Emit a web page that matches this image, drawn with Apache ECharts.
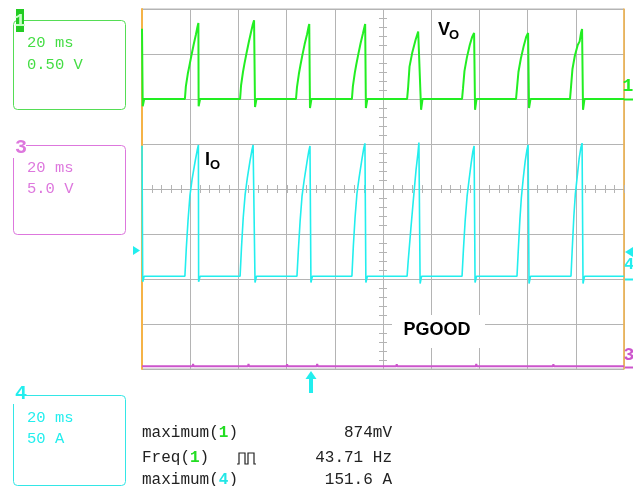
<!DOCTYPE html>
<html>
<head>
<meta charset="utf-8">
<script src="https://cdn.jsdelivr.net/npm/echarts@6/dist/echarts.min.js"></script>
<style>
  html, body { margin: 0; padding: 0; background: #ffffff; }
  #scope { width: 633px; height: 486px; }
</style>
</head>
<body>
<div id="scope"></div>
<script>
// Time base: 20 ms/div, 10 divisions
const timeSpan = [0, 200];

// Channel 1: output voltage V_O (V), 0.50 V/div
const vout = [
  [0, 0.78], [0.2, 0.80], [0.3, -0.08], [0.9, 0],
  [17.8, 0], [18.2, 0.14], [19.0, 0.28], [19.6, 0.36], [20.4, 0.47], [21.4, 0.60], [22.4, 0.72], [23.0, 0.80], [23.4, 0.844], [23.5, -0.08], [24.1, 0],
  [40.7, 0], [41.1, 0.15], [41.9, 0.30], [42.5, 0.39], [43.3, 0.50], [44.3, 0.63], [45.3, 0.75], [46.0, 0.83], [46.5, 0.874], [46.9, -0.09], [47.5, 0],
  [63.9, 0], [64.3, 0.13], [65.1, 0.28], [65.7, 0.37], [66.5, 0.48], [67.5, 0.61], [68.5, 0.72], [69.1, 0.80], [69.4, 0.833], [69.7, -0.10], [70.3, 0],
  [87.1, 0], [87.5, 0.14], [88.3, 0.29], [88.9, 0.38], [89.7, 0.49], [90.7, 0.62], [91.7, 0.73], [92.3, 0.80], [92.6, 0.833], [92.9, -0.10], [93.5, 0],
  [110.0, 0], [110.4, 0.12], [111.0, 0.36], [112.1, 0.51], [113.5, 0.656], [114.6, 0.75], [115.4, 0.767], [115.8, -0.12], [116.4, 0],
  [132.8, 0], [133.2, 0.12], [133.8, 0.31], [134.8, 0.46], [136.0, 0.60], [137.0, 0.69], [137.8, 0.733], [138.2, -0.12], [138.8, 0],
  [155.2, 0], [155.6, 0.12], [156.2, 0.30], [157.2, 0.45], [158.4, 0.59], [159.4, 0.69], [160.2, 0.733], [160.6, -0.10], [161.2, 0],
  [177.6, 0], [178.0, 0.13], [178.6, 0.33], [179.6, 0.48], [180.8, 0.60], [181.6, 0.64], [182.2, 0.74], [182.6, 0.778], [183.0, -0.12], [183.6, 0],
  [200, 0]
];

// Channel 4: output current I_O (A), 50 A/div
const iout = [
  [0, 148], [0.2, 149], [0.3, -3], [0.9, 3],
  [17.8, 3], [18.4, 35], [19.1, 65], [19.9, 93], [20.8, 111], [22.0, 130], [22.9, 143], [23.4, 148.9], [23.5, -3], [24.1, 3],
  [40.7, 3], [41.3, 36], [42.0, 68], [42.8, 94], [43.7, 112], [44.8, 131], [45.6, 143], [46.1, 148.9], [46.6, 148], [46.9, -4], [47.5, 3],
  [64.3, 3], [64.9, 33], [65.6, 64], [66.4, 92], [67.3, 110], [68.4, 129], [69.2, 142], [69.7, 147.8], [70.1, -4], [70.7, 3],
  [87.1, 3], [87.7, 37], [88.4, 68], [89.2, 95], [90.1, 113], [91.2, 132], [92.0, 145], [92.5, 150.7], [92.9, -4], [93.5, 3],
  [110.0, 3], [110.4, 18], [111.5, 54], [112.6, 88], [113.7, 121], [114.5, 140], [114.9, 151.6], [115.4, -5], [116.0, 3],
  [132.8, 3], [133.4, 34], [134.1, 65], [134.9, 92], [135.7, 110], [136.6, 129], [137.3, 142], [137.8, 147.8], [138.2, -4], [138.8, 3],
  [155.6, 3], [156.1, 30], [156.8, 66], [157.4, 90], [158.2, 112], [159.0, 131], [159.7, 143], [160.2, 148.9], [160.6, -5], [161.2, 3],
  [178.0, 3], [178.5, 32], [179.2, 70], [179.8, 94], [180.6, 114], [181.4, 134], [182.1, 146], [182.6, 151.0], [183.0, -5], [183.6, 3],
  [200, 3]
];

// Channel 3: PGOOD (V), 5.0 V/div — held low, only small switching spikes
const pgood = [
  [0, 0.30], [6.0, 0.30], [6.2, 0.52], [6.4, 0.30], [13.5, 0.30], [13.7, 0.48], [13.9, 0.30],
  [21.0, 0.30], [21.2, 0.55], [21.4, 0.30], [27.5, 0.30], [27.7, 0.46], [27.9, 0.30],
  [35.0, 0.30], [35.2, 0.50], [35.4, 0.30], [44.0, 0.30], [44.2, 0.56], [44.4, 0.30],
  [51.5, 0.30], [51.7, 0.47], [51.9, 0.30], [60.0, 0.30], [60.2, 0.53], [60.4, 0.30],
  [66.0, 0.30], [66.2, 0.49], [66.4, 0.30], [72.5, 0.30], [72.7, 0.57], [72.9, 0.30],
  [81.0, 0.30], [81.2, 0.46], [81.4, 0.30], [89.5, 0.30], [89.7, 0.52], [89.9, 0.30],
  [97.0, 0.30], [97.2, 0.48], [97.4, 0.30], [105.5, 0.30], [105.7, 0.54], [105.9, 0.30],
  [113.0, 0.30], [113.2, 0.47], [113.4, 0.30], [121.5, 0.30], [121.7, 0.51], [121.9, 0.30],
  [130.0, 0.30], [130.2, 0.46], [130.4, 0.30], [138.5, 0.30], [138.7, 0.55], [138.9, 0.30],
  [146.0, 0.30], [146.2, 0.48], [146.4, 0.30], [154.5, 0.30], [154.7, 0.50], [154.9, 0.30],
  [162.0, 0.30], [162.2, 0.47], [162.4, 0.30], [170.5, 0.30], [170.7, 0.53], [170.9, 0.30],
  [178.0, 0.30], [178.2, 0.46], [178.4, 0.30], [186.5, 0.30], [186.7, 0.51], [186.9, 0.30],
  [194.0, 0.30], [194.2, 0.48], [194.4, 0.30], [200, 0.30]
];

// Channel settings shown in the left-hand boxes
const ch1Settings = ['20 ms', '0.50 V'];
const ch3Settings = ['20 ms', '5.0 V'];
const ch4Settings = ['20 ms', '50 A'];

// Measurement readouts
const measNames = ['maximum({g|1})', 'Freq({g|1})', 'maximum({c|4})'];
const measValues = ['874mV', '43.71 Hz', '151.6 A'];

const GREEN = '#22ee22';
const GREEN_TXT = '#44dd44';
const CYAN = '#22eeee';
const MAGENTA = '#cc55cc';
const MAGENTA_TXT = '#dd77dd';
const GRID = '#b4b4b4';
const ORANGE = '#f5b347';
const MONO = '"Liberation Mono", "DejaVu Sans Mono", monospace';
const SANS = '"Liberation Sans", Arial, sans-serif';

// Graticule minor ticks along the centre cross: kind 0 = horizontal centre, kind 1 = vertical centre
const graticuleTicks = [];
for (let k = 0; k <= 50; k++) graticuleTicks.push([0, k * 4]);
for (let k = 0; k <= 40; k++) graticuleTicks.push([1, -3 + k * 0.1]);

const chart = echarts.init(document.getElementById('scope'), null, { renderer: 'canvas' });

function settingsBox(y, h, color, txtColor, num, numTop, inverted) {
  const els = [
    { type: 'rect', shape: { x: 13.5, y: y + 0.5, width: 112, height: h, r: 4 },
      style: { fill: 'none', stroke: color, lineWidth: 1 }, z: 10 }
  ];
  if (inverted) {
    els.push({ type: 'rect', shape: { x: 16, y: numTop, width: 8, height: 23 }, style: { fill: '#22cc22' }, z: 11 });
    els.push({ type: 'text', x: 20, y: numTop + 12, style: { text: num, fill: '#c8ffc8', font: 'bold 19px ' + MONO, align: 'center', verticalAlign: 'middle' }, z: 12 });
  } else {
    els.push({ type: 'rect', shape: { x: 13, y: numTop, width: 13, height: 19 }, style: { fill: '#ffffff' }, z: 11 });
    els.push({ type: 'text', x: 21, y: numTop + 9, style: { text: num, fill: txtColor, font: 'bold 20px ' + MONO, align: 'center', verticalAlign: 'middle' }, z: 12 });
  }
  return els;
}

const graphics = [];
// Channel 1 box
graphics.push(...settingsBox(20, 89, '#55dd55', GREEN_TXT, '1', 9, true));
graphics.push({ type: 'text', x: 27, y: 43, style: { text: ch1Settings[0], fill: GREEN_TXT, font: '15.5px ' + MONO, verticalAlign: 'middle' }, z: 12 });
graphics.push({ type: 'text', x: 27, y: 65, style: { text: ch1Settings[1], fill: GREEN_TXT, font: '15.5px ' + MONO, verticalAlign: 'middle' }, z: 12 });
// Channel 3 box
graphics.push(...settingsBox(145, 89, '#dd77dd', MAGENTA_TXT, '3', 139, false));
graphics.push({ type: 'text', x: 27, y: 168, style: { text: ch3Settings[0], fill: MAGENTA_TXT, font: '15.5px ' + MONO, verticalAlign: 'middle' }, z: 12 });
graphics.push({ type: 'text', x: 27, y: 189, style: { text: ch3Settings[1], fill: MAGENTA_TXT, font: '15.5px ' + MONO, verticalAlign: 'middle' }, z: 12 });
// Channel 4 box
graphics.push(...settingsBox(395, 90, '#33e6e6', CYAN, '4', 385, false));
graphics.push({ type: 'text', x: 27, y: 418, style: { text: ch4Settings[0], fill: CYAN, font: '15.5px ' + MONO, verticalAlign: 'middle' }, z: 12 });
graphics.push({ type: 'text', x: 27, y: 439, style: { text: ch4Settings[1], fill: CYAN, font: '15.5px ' + MONO, verticalAlign: 'middle' }, z: 12 });

// Measurement readouts
const measY = [433, 458, 480];
measNames.forEach((name, i) => {
  graphics.push({ type: 'text', x: 142, y: measY[i], style: {
    text: name, fill: '#222222', font: '16px ' + MONO, verticalAlign: 'middle',
    rich: {
      g: { fill: '#22dd22', font: 'bold 16px ' + MONO, verticalAlign: 'middle' },
      c: { fill: '#22e6e6', font: 'bold 16px ' + MONO, verticalAlign: 'middle' }
    }
  }, z: 12 });
  graphics.push({ type: 'text', x: 392, y: measY[i], style: {
    text: measValues[i], fill: '#222222', font: '16px ' + MONO, align: 'right', verticalAlign: 'middle'
  }, z: 12 });
});
// Pulse-train glyph next to Freq(1)
graphics.push({ type: 'polyline', shape: { points: [[237, 464], [239, 464], [239, 453], [245, 453], [245, 464], [248, 464], [248, 453], [254, 453], [254, 464], [256, 464]] },
  style: { stroke: '#222222', lineWidth: 1.2, fill: 'none' }, z: 12 });

// Trace labels
graphics.push({ type: 'text', x: 438, y: 21, style: { text: 'V', fill: '#000', font: 'bold 18px ' + SANS }, z: 12 });
graphics.push({ type: 'text', x: 449, y: 29, style: { text: 'O', fill: '#000', font: 'bold 13px ' + SANS }, z: 12 });
graphics.push({ type: 'text', x: 205, y: 151, style: { text: 'I', fill: '#000', font: 'bold 18px ' + SANS }, z: 12 });
graphics.push({ type: 'text', x: 210, y: 159, style: { text: 'O', fill: '#000', font: 'bold 13px ' + SANS }, z: 12 });
graphics.push({ type: 'rect', shape: { x: 392, y: 315, width: 93, height: 33 }, style: { fill: '#ffffff' }, z: 11 });
graphics.push({ type: 'text', x: 437, y: 330, style: { text: 'PGOOD', fill: '#000', font: 'bold 18px ' + SANS, align: 'center', verticalAlign: 'middle' }, z: 12 });

// Channel reference markers on the right edge
graphics.push({ type: 'text', x: 628, y: 86, style: { text: '1', fill: GREEN, font: 'bold 18px ' + MONO, align: 'center', verticalAlign: 'middle' }, z: 12 });
graphics.push({ type: 'line', shape: { x1: 624, y1: 99.5, x2: 633, y2: 99.5 }, style: { stroke: GREEN, lineWidth: 2 }, z: 12 });
graphics.push({ type: 'polygon', shape: { points: [[625, 252], [633, 247], [633, 257]] }, style: { fill: CYAN }, z: 12 });
graphics.push({ type: 'text', x: 629, y: 265, style: { text: '4', fill: CYAN, font: 'bold 17px ' + MONO, align: 'center', verticalAlign: 'middle' }, z: 12 });
graphics.push({ type: 'line', shape: { x1: 625, y1: 279.5, x2: 633, y2: 279.5 }, style: { stroke: CYAN, lineWidth: 2 }, z: 12 });
graphics.push({ type: 'text', x: 629, y: 355, style: { text: '3', fill: MAGENTA, font: 'bold 18px ' + MONO, align: 'center', verticalAlign: 'middle' }, z: 12 });
graphics.push({ type: 'line', shape: { x1: 625, y1: 367.5, x2: 633, y2: 367.5 }, style: { stroke: MAGENTA, lineWidth: 2 }, z: 12 });
// Trigger level marker (left) and trigger position arrow (bottom)
graphics.push({ type: 'polygon', shape: { points: [[133, 246], [140, 250.5], [133, 255]] }, style: { fill: CYAN }, z: 12 });
graphics.push({ type: 'polygon', shape: { points: [[311, 371], [305.5, 379], [316.5, 379]] }, style: { fill: CYAN }, z: 12 });
graphics.push({ type: 'rect', shape: { x: 309, y: 378, width: 4, height: 15 }, style: { fill: CYAN }, z: 12 });

const option = {
  backgroundColor: '#ffffff',
  animation: false,
  grid: { left: 142, right: 9, top: 9, bottom: 117, show: true, borderColor: GRID, borderWidth: 1, backgroundColor: 'transparent' },
  xAxis: [{
    type: 'value', min: timeSpan[0], max: timeSpan[1], interval: 20,
    axisLine: { show: false }, axisTick: { show: false }, axisLabel: { show: false },
    splitLine: { show: true, lineStyle: { color: GRID, width: 1 } }
  }],
  yAxis: [
    { type: 'value', min: -3, max: 1, interval: 0.5, position: 'left',
      axisLine: { show: true, onZero: false, lineStyle: { color: ORANGE, width: 2 } },
      axisTick: { show: false }, axisLabel: { show: false },
      splitLine: { show: true, lineStyle: { color: GRID, width: 1 } } },
    { type: 'value', min: -100, max: 300, position: 'right',
      axisLine: { show: true, onZero: false, lineStyle: { color: ORANGE, width: 1.5 } },
      axisTick: { show: false }, axisLabel: { show: false }, splitLine: { show: false } },
    { type: 'value', min: 0, max: 40, show: false, splitLine: { show: false } }
  ],
  series: [
    { type: 'custom', name: 'graticule', xAxisIndex: 0, yAxisIndex: 0, silent: true, z: 1,
      data: graticuleTicks,
      renderItem: function (params, api) {
        const kind = api.value(0), v = api.value(1);
        const p = kind === 0 ? api.coord([v, -1]) : api.coord([100, v]);
        const shape = kind === 0
          ? { x1: Math.round(p[0]) + 0.5, y1: p[1] - 4, x2: Math.round(p[0]) + 0.5, y2: p[1] + 4 }
          : { x1: p[0] - 4, y1: Math.round(p[1]) + 0.5, x2: p[0] + 4, y2: Math.round(p[1]) + 0.5 };
        return { type: 'line', shape: shape, style: { stroke: GRID, lineWidth: 1 } };
      }
    },
    { type: 'line', name: 'PGOOD', yAxisIndex: 2, data: pgood, showSymbol: false, z: 3,
      lineStyle: { color: MAGENTA, width: 2 } },
    { type: 'line', name: 'IO', yAxisIndex: 1, data: iout, showSymbol: false, z: 4,
      lineStyle: { color: CYAN, width: 1.6 } },
    { type: 'line', name: 'VO', yAxisIndex: 0, data: vout, showSymbol: false, z: 5,
      lineStyle: { color: GREEN, width: 2 } }
  ],
  graphic: graphics
};

chart.setOption(option);
</script>
</body>
</html>
